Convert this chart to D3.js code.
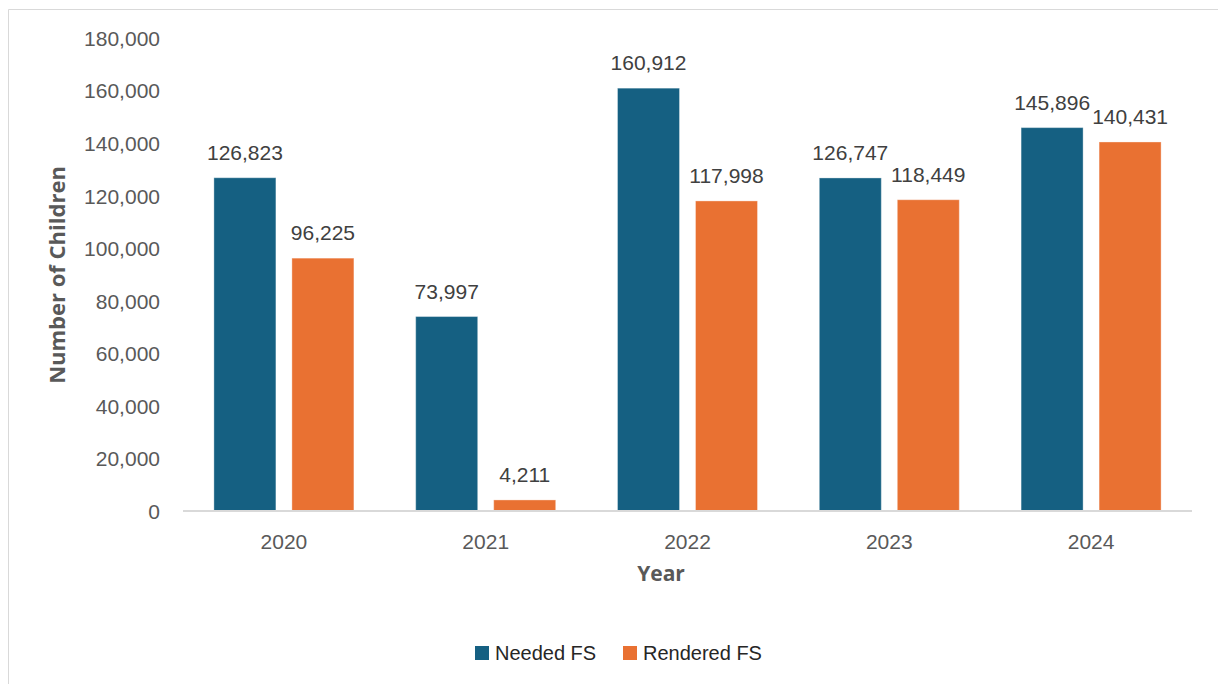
<!DOCTYPE html>
<html>
<head>
<meta charset="utf-8">
<script src="https://cdn.jsdelivr.net/npm/d3@7"></script>
<style>
  html, body { margin: 0; padding: 0; background: #fff; }
  svg { display: block; }
</style>
</head>
<body>
<svg id="chart" width="1218" height="684"></svg>
<script>
const years = ["2020", "2021", "2022", "2023", "2024"];
const seriesNames = ["Needed FS", "Rendered FS"];
const neededFS = [126823, 73997, 160912, 126747, 145896];
const renderedFS = [96225, 4211, 117998, 118449, 140431];
const yTicks = [0, 20000, 40000, 60000, 80000, 100000, 120000, 140000, 160000, 180000];
const colors = ["#156082", "#E97132"];

const svg = d3.select("#chart");
const W = 1218, H = 684;
const margin = { left: 183, right: W - 1192, top: 38, bottom: H - 511 };

// chart frame (only top and left visible)
svg.append("line").attr("x1", 8.5).attr("x2", W).attr("y1", 9.5).attr("y2", 9.5)
  .attr("stroke", "#d9d9d9").attr("stroke-width", 1);
svg.append("line").attr("x1", 8.5).attr("x2", 8.5).attr("y1", 9.5).attr("y2", H)
  .attr("stroke", "#d9d9d9").attr("stroke-width", 1);

const x0 = d3.scaleBand().domain(years).range([margin.left, W - margin.right]).paddingInner(0).paddingOuter(0);
const y = d3.scaleLinear().domain([0, 180000]).range([H - margin.bottom, margin.top]);

const bw = x0.bandwidth();
const barW = 62, gap = 16;
const x1 = d3.scaleBand().domain(seriesNames).range([0, 2 * barW + gap]).paddingInner(gap / (barW + gap)).paddingOuter(0);
const groupOffset = (bw - (2 * barW + gap)) / 2;

const fmt = d3.format(",");
const data = years.map((yr, i) => ({ year: yr, vals: [neededFS[i], renderedFS[i]] }));

// y axis (labels only)
const yAxis = d3.axisLeft(y).tickValues(yTicks).tickFormat(d => fmt(d)).tickSize(0).tickPadding(23);
const gy = svg.append("g").attr("transform", `translate(${margin.left},0)`).call(yAxis);
gy.select(".domain").remove();
gy.selectAll("text").attr("font-family", "Liberation Sans, Arial, sans-serif")
  .attr("font-size", "21px").attr("fill", "#595959").attr("dy", "0.35em");

// bars
const groups = svg.append("g").selectAll("g").data(data).join("g")
  .attr("transform", d => `translate(${x0(d.year) + groupOffset},0)`);

groups.selectAll("rect").data(d => d.vals.map((v, k) => ({ v, k }))).join("rect")
  .attr("x", d => x1(seriesNames[d.k]))
  .attr("width", x1.bandwidth())
  .attr("y", d => y(d.v))
  .attr("height", d => y(0) - y(d.v))
  .attr("fill", d => colors[d.k])
  .attr("stroke", "#ffffff").attr("stroke-opacity", 0.35).attr("stroke-width", 1);

groups.selectAll("text.lbl").data(d => d.vals.map((v, k) => ({ v, k }))).join("text")
  .attr("class", "lbl")
  .attr("x", d => x1(seriesNames[d.k]) + x1.bandwidth() / 2)
  .attr("y", d => y(d.v) - 18)
  .attr("text-anchor", "middle")
  .attr("font-family", "Liberation Sans, Arial, sans-serif")
  .attr("font-size", "21px").attr("fill", "#404040")
  .text(d => fmt(d.v));

// x axis
const xAxis = d3.axisBottom(x0).tickSize(0).tickPadding(23);
const gx = svg.append("g").attr("transform", `translate(0,${y(0)})`).call(xAxis);
gx.select(".domain").attr("stroke", "#d9d9d9").attr("stroke-width", 2)
  .attr("d", `M${margin.left},0H${W - margin.right}`);
gx.selectAll("text").attr("font-family", "Liberation Sans, Arial, sans-serif")
  .attr("font-size", "21px").attr("fill", "#595959");

// axis titles
svg.append("text").attr("x", 661).attr("y", 581).attr("text-anchor", "middle")
  .attr("font-family", "Open Sans, sans-serif").attr("font-weight", "bold")
  .attr("font-size", "21px").attr("fill", "#595959").text("Year");

svg.append("text").attr("transform", "translate(65,275) rotate(-90)").attr("text-anchor", "middle")
  .attr("font-family", "Open Sans, sans-serif").attr("font-weight", "bold")
  .attr("font-size", "22px").attr("fill", "#595959").text("Number of Children");

// legend
const legend = svg.append("g");
const legendItems = [{ name: seriesNames[0], x: 475 }, { name: seriesNames[1], x: 623 }];
legendItems.forEach((it, i) => {
  legend.append("rect").attr("x", it.x).attr("y", 646).attr("width", 14).attr("height", 14).attr("fill", colors[i]);
  legend.append("text").attr("x", it.x + 20).attr("y", 653).attr("dy", "0.35em")
    .attr("font-family", "Liberation Sans, Arial, sans-serif").attr("font-size", "20px")
    .attr("fill", "#262626").text(it.name);
});
</script>
</body>
</html>
